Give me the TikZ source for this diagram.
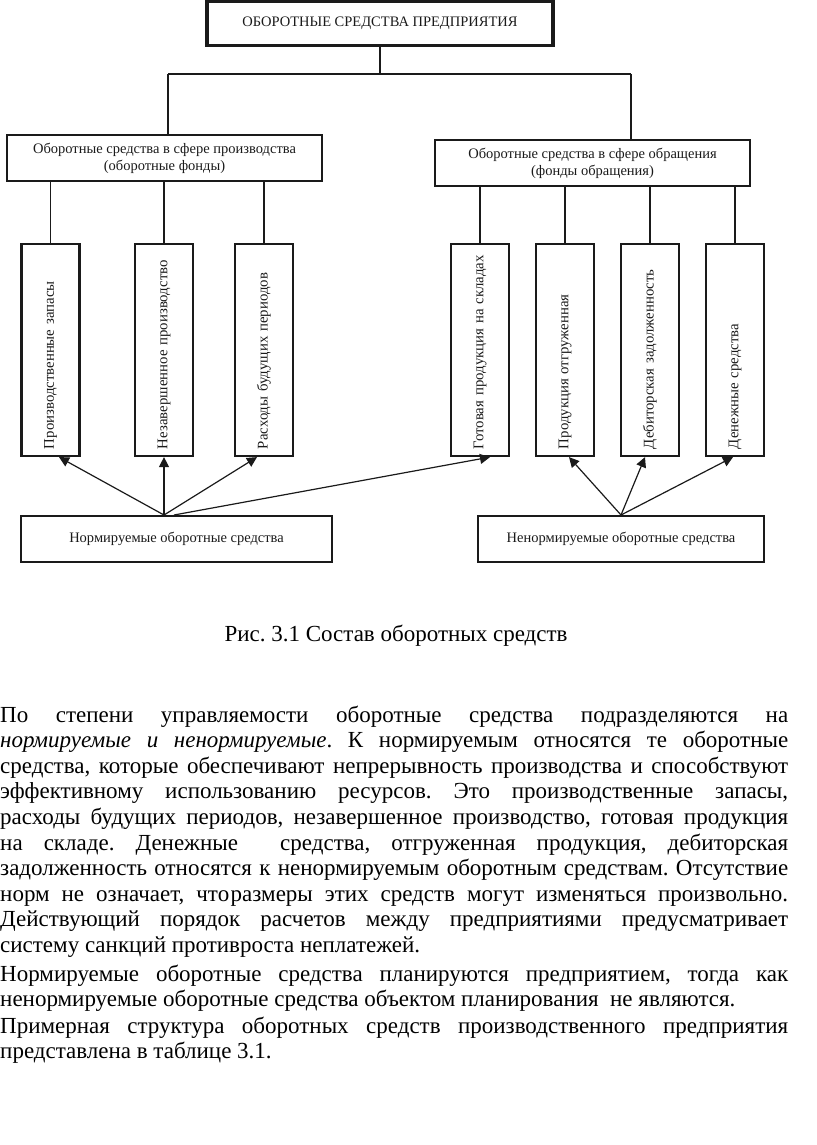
\documentclass[tikz,border=0pt]{standalone}
\usepackage{fontspec}
\setmainfont{Liberation Serif}
\usetikzlibrary{positioning,arrows.meta,calc}
\definecolor{ink}{HTML}{1A1A1A}
\frenchspacing
\tikzset{
  box/.style={draw=ink, line width=2pt, align=center, inner sep=0pt,
              font=\fontsize{14.5}{17}\selectfont, text=ink},
  headbox/.style={box, line width=3.2pt, minimum width=346pt, minimum height=44pt},
  sphere/.style={box, line width=2.6pt, minimum width=315pt, minimum height=46pt},
  asset/.style={box, line width=2.2pt, rotate=90, minimum height=58pt,
                text width=198pt, inner xsep=7pt, align=left,
                font=\fontsize{14.8}{17}\selectfont},
  group/.style={box, minimum height=46pt},
  link/.style={line width=1.2pt, draw=ink},
  flow/.style={link, -{Triangle[length=10pt, width=10pt]}},
  body/.style={font=\fontsize{23}{25.6}\selectfont, text width=788pt,
               align=justify, inner sep=0pt, anchor=base west},
}
\begin{document}
\begin{tikzpicture}[x=1pt, y=-1pt]
\useasboundingbox (0,0) rectangle (816,1145);

% ---- enterprise and the two spheres ---------------------------------------
\node[headbox] (top) at (380,23.5) {ОБОРОТНЫЕ СРЕДСТВА ПРЕДПРИЯТИЯ};
\node[sphere] (prod) at (164.5,158) {Оборотные средства в сфере производства\\(оборотные фонды)};
\node[sphere] (circ) at (592.5,163) {Оборотные средства в сфере обращения\\(фонды обращения)};

% ---- elements, text read from the bottom up --------------------------------
\node[asset] (pz)  at (50.5,350) {Производственные запасы};
\node[asset] (nzp) at (164,350)  {Незавершенное производство};
\node[asset] (rbp) at (264,350)  {Расходы будущих периодов};
\node[asset] (gp)  at (480,350)  {Готовая продукция на складах};
\node[asset] (otg) at (565,350)  {Продукция отгруженная};
\node[asset] (deb) at (650,350)  {Дебиторская задолженность};
\node[asset] (den) at (735,350)  {Денежные средства};

% ---- normed and non-normed groups ------------------------------------------
\node[group, minimum width=311pt] (norm)   at (176.5,539) {Нормируемые оборотные средства};
\node[group, minimum width=286pt] (nenorm) at (621,539)   {Ненормируемые оборотные средства};

% ---- tree lines ------------------------------------------------------------
\coordinate (busl) at (168,74);
\coordinate (busr) at (631,74);
\draw[link] (top.south) -- (top.south |- busl);
\draw[link] (busl) -- (busr);
\draw[link] (busl) -- (busl |- prod.north);
\draw[link] (busr) -- (busr |- circ.north);
\foreach \a in {pz,nzp,rbp} {\draw[link] (prod.south -| \a.east) -- (\a.east);}
\foreach \a in {gp,otg,deb,den} {\draw[link] (circ.south -| \a.east) -- (\a.east);}

% ---- arrows from the groups ------------------------------------------------
\coordinate (nsrc) at (norm.north -| nzp.west);
\draw[flow] (nsrc) -- ($(pz.west)+(8.5,0)$);
\draw[flow] (nsrc) -- (nzp.west);
\draw[flow] (nsrc) -- ($(rbp.west)+(-7,0)$);
\draw[flow] ($(nsrc)+(10,0)$) -- ($(gp.west)+(10,0)$);
\draw[flow] (nenorm.north) -- ($(otg.west)+(4,0)$);
\draw[flow] (nenorm.north) -- ($(deb.west)+(-5,0)$);
\draw[flow] (nenorm.north) -- ($(den.west)+(-2,0)$);

% ---- caption and text ------------------------------------------------------
\node[font=\fontsize{23}{26}\selectfont] (cap) at (396,636) {Рис. 3.1 Состав оборотных средств};
\node[body] (par1) at (0,722) {По степени управляемости оборотные средства подразделяются на\linebreak
  \textit{нормируемые и ненормируемые}. К нормируемым относятся те оборотные\linebreak
  средства, которые обеспечивают непрерывность производства и способствуют\linebreak
  эффективному использованию ресурсов. Это производственные запасы,\linebreak
  расходы будущих периодов, незавершенное производство, готовая продукция\linebreak
  на складе. Денежные \ средства, отгруженная продукция, дебиторская\linebreak
  задолженность относятся к ненормируемым оборотным средствам. Отсутствие\linebreak
  норм не означает, что\kern1.5pt размеры этих средств могут изменяться произвольно.\linebreak
  Действующий порядок расчетов между предприятиями предусматривает\linebreak
  систему санкций противроста неплатежей.};
\node[body] (par2) at (0,981) {Нормируемые оборотные средства планируются предприятием, тогда как\linebreak
  ненормируемые оборотные средства объектом планирования \ не являются.};
\node[body] (par3) at (0,1033) {Примерная структура оборотных средств производственного предприятия\linebreak
  представлена в таблице 3.1.};
\end{tikzpicture}
\end{document}
